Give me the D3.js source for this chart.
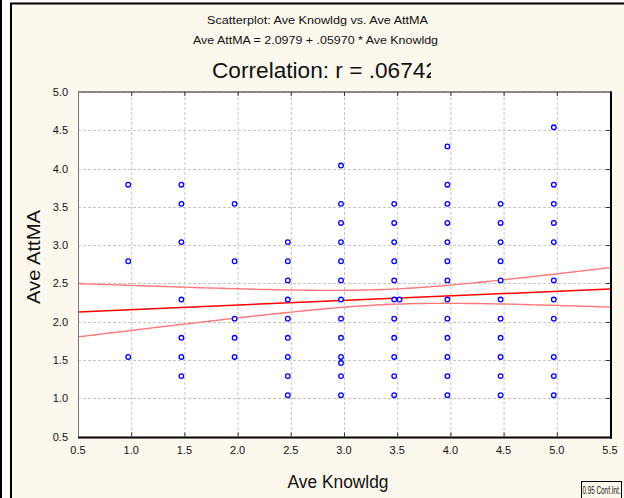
<!DOCTYPE html>
<html lang="en">
<head>
<meta charset="UTF-8">
<title>Scatterplot: Ave Knowldg vs. Ave AttMA</title>
<script src="https://cdnjs.cloudflare.com/ajax/libs/d3/7.8.5/d3.min.js"></script>
<style>
    body {
        margin: 0;
        padding: 0;
        background: #fff;
        font-family: Arial, "Liberation Sans", sans-serif;
    }
    svg { display: block; }
    .grid line {
        stroke: #c4c4c4;
        stroke-width: 1px;
        stroke-dasharray: 3 2;
    }
    .tick-label { font-size: 11px; fill: #111; }
</style>
</head>
<body>
<svg width="624" height="498"></svg>
<script>
    // data
    const knowLevels = [1.0, 1.5, 2.0, 2.5, 3.0, 3.5, 4.0, 4.5, 5.0];
    const attmaByLevel = [
        [3.75, 2.75, 1.5],
        [3.75, 3.5, 3.0, 2.25, 1.75, 1.5, 1.25],
        [3.5, 2.75, 2.0, 1.75, 1.5],
        [3.0, 2.75, 2.5, 2.25, 2.0, 1.75, 1.5, 1.25, 1.0],
        [4.0, 3.5, 3.25, 3.0, 2.75, 2.5, 2.25, 2.0, 1.75, 1.5, 1.42, 1.25, 1.0],
        [3.5, 3.25, 3.0, 2.75, 2.5, 2.25, 2.0, 1.75, 1.5, 1.25, 1.0],
        [4.25, 3.75, 3.5, 3.25, 3.0, 2.75, 2.5, 2.25, 2.0, 1.75, 1.5, 1.25, 1.0],
        [3.5, 3.25, 3.0, 2.75, 2.5, 2.25, 2.0, 1.75, 1.5, 1.25, 1.0],
        [4.5, 3.75, 3.5, 3.25, 3.0, 2.5, 2.25, 2.0, 1.5, 1.25, 1.0]
    ];
    const extraKnow = [3.55];
    const extraAttma = [2.25];

    // regression + 0.95 confidence band
    const intercept = 2.0979;
    const slope = 0.05970;
    const bandMeanX = 3.42;
    const bandSeMin = 0.099;
    const bandSeSlope = 0.1145;
    const bandShift = 0.022;

    const xTicks = [0.5, 1.0, 1.5, 2.0, 2.5, 3.0, 3.5, 4.0, 4.5, 5.0, 5.5];
    const yTicks = [0.5, 1.0, 1.5, 2.0, 2.5, 3.0, 3.5, 4.0, 4.5, 5.0];

    const points = [];
    knowLevels.forEach((k, i) => attmaByLevel[i].forEach(v => points.push({ x: k, y: v })));
    extraKnow.forEach((k, i) => points.push({ x: k, y: extraAttma[i] }));

    const svg = d3.select("svg");
    const bg = "#fdf8ed";

    // outer panel
    svg.append("rect").attr("x", 0).attr("y", 0).attr("width", 2).attr("height", 498).attr("fill", "#000");
    svg.append("rect").attr("x", 11).attr("y", 3.5).attr("width", 640).attr("height", 520)
        .attr("fill", bg).attr("stroke", "#000").attr("stroke-width", 2);

    const plotL = 78, plotR = 610, plotT = 92, plotB = 436.5;
    const x = d3.scaleLinear().domain([0.5, 5.5]).range([plotL, plotR]);
    const y = d3.scaleLinear().domain([0.5, 5.0]).range([plotB, plotT]);

    svg.append("rect").attr("x", plotL).attr("y", plotT)
        .attr("width", plotR - plotL).attr("height", plotB - plotT).attr("fill", "#fff");

    // grid
    const grid = svg.append("g").attr("class", "grid");
    grid.selectAll(".gx").data(xTicks.slice(1, -1)).enter().append("line")
        .attr("x1", d => x(d) + 0.5).attr("x2", d => x(d) + 0.5)
        .attr("y1", plotT).attr("y2", plotB);
    grid.selectAll(".gy").data(yTicks.slice(1)).enter().append("line")
        .attr("x1", plotL).attr("x2", plotR)
        .attr("y1", d => Math.round(y(d)) + 0.5).attr("y2", d => Math.round(y(d)) + 0.5);

    // clip for plot contents
    svg.append("clipPath").attr("id", "plotclip").append("rect")
        .attr("x", plotL).attr("y", plotT).attr("width", plotR - plotL).attr("height", plotB - plotT);
    const plot = svg.append("g").attr("clip-path", "url(#plotclip)");

    const xs = d3.range(0.5, 5.5001, 0.05);
    const halfW = k => Math.sqrt(bandSeMin * bandSeMin + bandSeSlope * bandSeSlope * (k - bandMeanX) * (k - bandMeanX));
    const fit = k => intercept + slope * k;

    const line = d3.line().x(d => x(d[0])).y(d => y(d[1]));
    plot.append("path")
        .attr("d", line(xs.map(k => [k, fit(k) + bandShift + halfW(k)])))
        .attr("fill", "none").attr("stroke", "#ff7777").attr("stroke-width", 1.4);
    plot.append("path")
        .attr("d", line(xs.map(k => [k, fit(k) + bandShift - halfW(k)])))
        .attr("fill", "none").attr("stroke", "#ff7777").attr("stroke-width", 1.4);
    plot.append("path")
        .attr("d", line([[0.5, fit(0.5)], [5.5, fit(5.5)]]))
        .attr("fill", "none").attr("stroke", "#ff0000").attr("stroke-width", 1.5);

    // markers (drawn a few px up-left of their value, as in the original)
    plot.selectAll("circle").data(points).enter().append("circle")
        .attr("cx", d => x(d.x) - 3)
        .attr("cy", d => y(d.y) - 3)
        .attr("r", 2.3)
        .attr("fill", "#fff")
        .attr("stroke", "#0000ff")
        .attr("stroke-width", 1.3);

    // frame
    svg.append("line").attr("x1", plotL).attr("x2", plotR).attr("y1", plotT).attr("y2", plotT)
        .attr("stroke", "#666").attr("stroke-width", 1.5);
    svg.append("line").attr("x1", plotL + 0.5).attr("x2", plotL + 0.5).attr("y1", plotT).attr("y2", plotB)
        .attr("stroke", "#777").attr("stroke-width", 1);
    svg.append("line").attr("x1", plotR + 1).attr("x2", plotR + 1).attr("y1", plotT - 0.7).attr("y2", plotB + 2)
        .attr("stroke", "#000").attr("stroke-width", 2);
    svg.append("line").attr("x1", plotL).attr("x2", plotR + 2).attr("y1", plotB + 1).attr("y2", plotB + 1)
        .attr("stroke", "#000").attr("stroke-width", 2);

    // inner ticks on top, bottom and right edges
    const tk = svg.append("g").attr("stroke", "#333").attr("stroke-width", 1);
    tk.selectAll(".tt").data(xTicks.slice(1, -1)).enter().append("line")
        .attr("x1", d => x(d) + 0.5).attr("x2", d => x(d) + 0.5)
        .attr("y1", plotT).attr("y2", plotT + 4);
    tk.selectAll(".tb").data(xTicks.slice(1, -1)).enter().append("line")
        .attr("x1", d => x(d) + 0.5).attr("x2", d => x(d) + 0.5)
        .attr("y1", plotB).attr("y2", plotB - 4);
    tk.selectAll(".tr").data(yTicks.slice(1, -1)).enter().append("line")
        .attr("x1", plotR).attr("x2", plotR - 4)
        .attr("y1", d => Math.round(y(d)) + 0.5).attr("y2", d => Math.round(y(d)) + 0.5);

    // tick labels
    svg.selectAll(".yl").data(yTicks).enter().append("text")
        .attr("class", "tick-label")
        .attr("x", 68).attr("y", d => y(d) + 4)
        .attr("text-anchor", "end")
        .text(d => d.toFixed(1));
    svg.selectAll(".xl").data(xTicks).enter().append("text")
        .attr("class", "tick-label")
        .attr("x", d => x(d)).attr("y", 454)
        .attr("text-anchor", "middle")
        .text(d => d.toFixed(1));

    // axis titles
    svg.append("text").attr("x", 338).attr("y", 488)
        .attr("text-anchor", "middle").attr("font-size", 18).attr("fill", "#111")
        .attr("textLength", 101).attr("lengthAdjust", "spacingAndGlyphs")
        .text("Ave Knowldg");
    svg.append("text").attr("transform", "translate(40,257) rotate(-90)")
        .attr("text-anchor", "middle").attr("font-size", 18).attr("fill", "#111")
        .attr("textLength", 94).attr("lengthAdjust", "spacingAndGlyphs")
        .text("Ave AttMA");

    // titles
    svg.append("text").attr("x", 317.5).attr("y", 24)
        .attr("text-anchor", "middle").attr("font-size", 11.5).attr("fill", "#111")
        .attr("textLength", 221).attr("lengthAdjust", "spacingAndGlyphs")
        .text("Scatterplot: Ave Knowldg vs. Ave AttMA");
    svg.append("text").attr("x", 315.5).attr("y", 44)
        .attr("text-anchor", "middle").attr("font-size", 11.5).attr("fill", "#111")
        .attr("textLength", 245).attr("lengthAdjust", "spacingAndGlyphs")
        .text("Ave AttMA = 2.0979 + .05970 * Ave Knowldg");

    svg.append("clipPath").attr("id", "corrclip").append("rect")
        .attr("x", 200).attr("y", 50).attr("width", 231).attr("height", 40);
    svg.append("text").attr("x", 212).attr("y", 78)
        .attr("clip-path", "url(#corrclip)")
        .attr("font-size", 22).attr("fill", "#111")
        .attr("textLength", 226).attr("lengthAdjust", "spacingAndGlyphs")
        .text("Correlation: r = .06742");

    // legend box
    svg.append("rect").attr("x", 581.5).attr("y", 481.5).attr("width", 40).attr("height", 30)
        .attr("fill", bg).attr("stroke", "#000").attr("stroke-width", 1);
    svg.append("text").attr("transform", "translate(582.5,494) scale(0.55,1)")
        .attr("font-size", 11.5).attr("fill", "#111")
        .text("0.95 Conf.Int.");
</script>
</body>
</html>
